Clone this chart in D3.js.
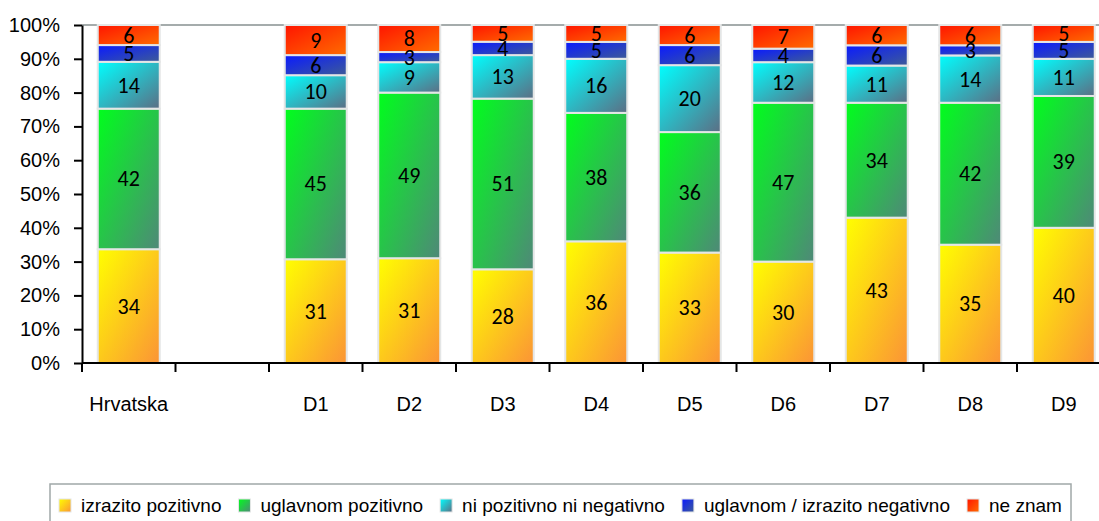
<!DOCTYPE html>
<html>
<head>
<meta charset="utf-8">
<script src="https://cdn.jsdelivr.net/npm/d3@7"></script>
<style>
    body { margin: 0; background: #fff; overflow: hidden; }
    svg { display: block; }
    .axis text { font-family: "Liberation Sans", Arial, sans-serif; font-size: 20px; fill: #000; }
    .axis line, .axis path { stroke: #000; stroke-width: 2; }
    .val { font-family: Carlito, Lato, sans-serif; font-size: 22px; fill: #000; }
    .legend text { font-family: "Liberation Sans", Arial, sans-serif; font-size: 19px; fill: #000; }
</style>
</head>
<body>
<div id="chart"></div>
<script>
// categories (blank slot between Hrvatska and D1)
const categories = ["Hrvatska", "", "D1", "D2", "D3", "D4", "D5", "D6", "D7", "D8", "D9"];

const seriesNames = ["izrazito pozitivno", "uglavnom pozitivno", "ni pozitivno ni negativno", "uglavnom / izrazito negativno", "ne znam"];

const izrazitoPozitivno = [34, null, 31, 31, 28, 36, 33, 30, 43, 35, 40];
const uglavnomPozitivno = [42, null, 45, 49, 51, 38, 36, 47, 34, 42, 39];
const niPozNiNeg        = [14, null, 10,  9, 13, 16, 20, 12, 11, 14, 11];
const negativno         = [ 5, null,  6,  3,  4,  5,  6,  4,  6,  3,  5];
const neZnam            = [ 6, null,  9,  8,  5,  5,  6,  7,  6,  6,  5];

const yTicks = [0, 0.1, 0.2, 0.3, 0.4, 0.5, 0.6, 0.7, 0.8, 0.9, 1];

// gradient colours: [top-left, bottom-right]
const gradColors = [
    ["#ffff00", "#fb9436"],
    ["#00ff1c", "#4f8878"],
    ["#00ffff", "#5c6e84"],
    ["#0a1aff", "#3d5b98"],
    ["#ff1400", "#ff6c00"]
];

const W = 1099, H = 521;
const margin = { top: 25, left: 82, bottom: 158 };
const plotH = H - margin.top - margin.bottom;

const svg = d3.select("#chart").append("svg")
    .attr("width", W)
    .attr("height", H);

const defs = svg.append("defs");
gradColors.forEach((c, i) => {
    const g = defs.append("linearGradient")
        .attr("id", "grad" + i)
        .attr("x1", 0).attr("y1", 0).attr("x2", 1).attr("y2", 1);
    g.append("stop").attr("offset", "0%").attr("stop-color", c[0]);
    g.append("stop").attr("offset", "100%").attr("stop-color", c[1]);
});

// table for the stack
const allSeries = [izrazitoPozitivno, uglavnomPozitivno, niPozNiNeg, negativno, neZnam];
const rows = categories.map((c, i) => {
    const r = { key: c || "_gap" + i, label: c };
    seriesNames.forEach((s, j) => r[s] = allSeries[j][i] || 0);
    return r;
});

const x = d3.scaleBand()
    .domain(rows.map(r => r.key))
    .range([margin.left, margin.left + 11 * 93.5])
    .paddingInner(0.337)
    .paddingOuter(0.337 / 2);

const y = d3.scaleLinear()
    .domain([0, 1])
    .range([margin.top + plotH, margin.top]);

const stack = d3.stack()
    .keys(seriesNames)
    .offset(d3.stackOffsetExpand);
const stacked = stack(rows.filter(r => r.label !== ""));

// top border of plot area
svg.append("line")
    .attr("x1", margin.left).attr("x2", W)
    .attr("y1", y(1)).attr("y2", y(1))
    .attr("stroke", "#a5acac")
    .attr("stroke-width", 2);

// bars
const layer = svg.selectAll(".layer")
    .data(stacked)
    .enter().append("g")
    .attr("class", "layer")
    .attr("fill", (d, i) => "url(#grad" + i + ")");

layer.selectAll("rect")
    .data(d => d)
    .enter().append("rect")
    .attr("x", d => x(d.data.key))
    .attr("width", x.bandwidth())
    .attr("y", d => y(d[1]))
    .attr("height", d => y(d[0]) - y(d[1]))
    .attr("stroke", "#e4e6e6")
    .attr("stroke-width", 2);

// value labels
stacked.forEach(s => {
    svg.selectAll(null)
        .data(s)
        .enter().append("text")
        .attr("class", "val")
        .attr("x", d => x(d.data.key) + x.bandwidth() / 2)
        .attr("y", d => (y(d[0]) + y(d[1])) / 2)
        .attr("text-anchor", "middle")
        .attr("dominant-baseline", "central")
        .text(d => d.data[s.key]);
});

// y axis
svg.append("g")
    .attr("class", "axis")
    .attr("transform", "translate(" + margin.left + ",0)")
    .call(d3.axisLeft(y).tickValues(yTicks).tickFormat(d3.format(".0%")).tickSize(8).tickSizeOuter(0).tickPadding(14));

// x axis: labels at band centres, ticks at band boundaries
const xAxis = svg.append("g")
    .attr("class", "axis")
    .attr("transform", "translate(0," + y(0) + ")")
    .call(d3.axisBottom(x).tickSize(0).tickPadding(34).tickFormat(k => rows.find(r => r.key === k).label));
xAxis.select(".domain").attr("d", "M" + margin.left + ",0H" + W);

const gapHalf = (x.step() - x.bandwidth()) / 2;
xAxis.selectAll(".bound")
    .data(rows)
    .enter().append("line")
    .attr("class", "bound")
    .attr("x1", d => x(d.key) - gapHalf)
    .attr("x2", d => x(d.key) - gapHalf)
    .attr("y1", 0).attr("y2", 9)
    .attr("stroke", "#000")
    .attr("stroke-width", 2);

// legend
const legend = svg.append("g").attr("class", "legend");
legend.append("rect")
    .attr("x", 50).attr("y", 484)
    .attr("width", 1021).attr("height", 60)
    .attr("fill", "none")
    .attr("stroke", "#a0a8a8")
    .attr("stroke-width", 1.5);

let lx = 59;
seriesNames.forEach((s, i) => {
    const item = legend.append("g").attr("transform", "translate(" + lx + ",0)");
    item.append("rect")
        .attr("x", 0).attr("y", 499)
        .attr("width", 12).attr("height", 13)
        .attr("fill", "url(#grad" + i + ")")
        .attr("stroke", "#e4e6e6");
    const t = item.append("text")
        .attr("x", 22).attr("y", 512)
        .text(s);
    lx += 22 + t.node().getComputedTextLength() + 17;
});
</script>
</body>
</html>
